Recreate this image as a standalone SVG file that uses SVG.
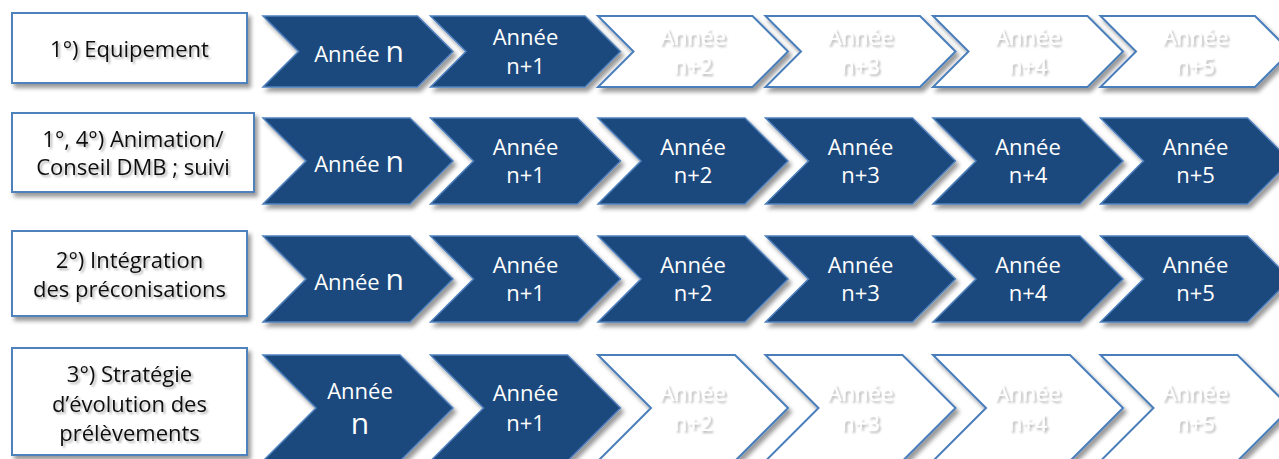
<svg xmlns="http://www.w3.org/2000/svg" width="1279" height="459" viewBox="0 0 1279 459">
<defs>
<filter id="sh" x="-10%" y="-10%" width="130%" height="140%">
<feGaussianBlur in="SourceAlpha" stdDeviation="2"/>
<feOffset dx="3" dy="4" result="b"/>
<feFlood flood-color="#000" flood-opacity="0.4"/>
<feComposite in2="b" operator="in" result="s"/>
<feMerge><feMergeNode in="s"/><feMergeNode in="SourceGraphic"/></feMerge>
</filter>
<filter id="tsh" x="-20%" y="-30%" width="150%" height="170%">
<feGaussianBlur in="SourceAlpha" stdDeviation="1.2"/>
<feOffset dx="1.5" dy="2" result="b"/>
<feFlood flood-color="#000" flood-opacity="0.3"/>
<feComposite in2="b" operator="in" result="s"/>
<feMerge><feMergeNode in="s"/><feMergeNode in="SourceGraphic"/></feMerge>
</filter>
</defs>
<style>
.box{fill:#fff;stroke:#4f81bd;stroke-width:2;filter:url(#sh)}
.dk{fill:#1f497d;stroke:#4f81bd;stroke-width:1.5;filter:url(#sh)}
.wt{fill:#fff;stroke:#4a7ebb;stroke-width:2;filter:url(#sh)}
.lt{font-family:"Open Sans","DejaVu Sans",sans-serif;font-size:22px;fill:#111;text-anchor:middle;filter:url(#tsh)}
.ct{font-family:"Open Sans","DejaVu Sans",sans-serif;font-size:22px;fill:#fff;text-anchor:middle}
.cw{font-family:"Open Sans","DejaVu Sans",sans-serif;font-size:22px;fill:#fff;text-anchor:middle;filter:url(#tsh)}
.big{font-size:30px}
</style>
<rect width="1279" height="459" fill="#fff"/>

<!-- Row 1 -->
<g id="label1"><rect class="box" x="12" y="13" width="235" height="70"/><text class="lt" x="129.5" y="57">1°) Equipement</text></g>
<g id="r1c1"><polygon class="dk" points="263,16 417.5,16 453,51.5 417.5,87 263,87 298.5,51.5"/><text class="ct" x="359" y="62">Année <tspan class="big">n</tspan></text></g>
<g id="r1c2"><polygon class="dk" points="430.5,16 585,16 620.5,51.5 585,87 430.5,87 466,51.5"/><text class="ct"><tspan x="525.5" y="45">Année</tspan><tspan x="525.5" y="73.5">n+1</tspan></text></g>
<g id="r1c3"><polygon class="wt" points="598,16 752.5,16 788,51.5 752.5,87 598,87 633.5,51.5"/><text class="cw"><tspan x="693" y="45">Année</tspan><tspan x="693" y="73.5">n+2</tspan></text></g>
<g id="r1c4"><polygon class="wt" points="765.5,16 920,16 955.5,51.5 920,87 765.5,87 801,51.5"/><text class="cw"><tspan x="860.5" y="45">Année</tspan><tspan x="860.5" y="73.5">n+3</tspan></text></g>
<g id="r1c5"><polygon class="wt" points="933,16 1087.5,16 1123,51.5 1087.5,87 933,87 968.5,51.5"/><text class="cw"><tspan x="1028" y="45">Année</tspan><tspan x="1028" y="73.5">n+4</tspan></text></g>
<g id="r1c6"><polygon class="wt" points="1100.5,16 1255,16 1290.5,51.5 1255,87 1100.5,87 1136,51.5"/><text class="cw"><tspan x="1195.5" y="45">Année</tspan><tspan x="1195.5" y="73.5">n+5</tspan></text></g>

<!-- Row 2 -->
<g id="label2"><rect class="box" x="12" y="113" width="242" height="79"/><text class="lt"><tspan x="133" y="147">1°, 4°) Animation/</tspan><tspan x="133" y="175">Conseil DMB ; suivi</tspan></text></g>
<g id="r2c1"><polygon class="dk" points="263,118 410,118 453,161 410,204 263,204 306,161"/><text class="ct" x="359" y="171.5">Année <tspan class="big">n</tspan></text></g>
<g id="r2c2"><polygon class="dk" points="430.5,118 577.5,118 620.5,161 577.5,204 430.5,204 473.5,161"/><text class="ct"><tspan x="525.5" y="155">Année</tspan><tspan x="525.5" y="183">n+1</tspan></text></g>
<g id="r2c3"><polygon class="dk" points="598,118 745,118 788,161 745,204 598,204 641,161"/><text class="ct"><tspan x="693" y="155">Année</tspan><tspan x="693" y="183">n+2</tspan></text></g>
<g id="r2c4"><polygon class="dk" points="765.5,118 912.5,118 955.5,161 912.5,204 765.5,204 808.5,161"/><text class="ct"><tspan x="860.5" y="155">Année</tspan><tspan x="860.5" y="183">n+3</tspan></text></g>
<g id="r2c5"><polygon class="dk" points="933,118 1080,118 1123,161 1080,204 933,204 976,161"/><text class="ct"><tspan x="1028" y="155">Année</tspan><tspan x="1028" y="183">n+4</tspan></text></g>
<g id="r2c6"><polygon class="dk" points="1100.5,118 1247.5,118 1290.5,161 1247.5,204 1100.5,204 1143.5,161"/><text class="ct"><tspan x="1195.5" y="155">Année</tspan><tspan x="1195.5" y="183">n+5</tspan></text></g>

<!-- Row 3 -->
<g id="label3"><rect class="box" x="12" y="231" width="235" height="85"/><text class="lt"><tspan x="129.5" y="268">2°) Intégration</tspan><tspan x="129.5" y="297">des préconisations</tspan></text></g>
<g id="r3c1"><polygon class="dk" points="263,236 410,236 453,279 410,322 263,322 306,279"/><text class="ct" x="359" y="289.5">Année <tspan class="big">n</tspan></text></g>
<g id="r3c2"><polygon class="dk" points="430.5,236 577.5,236 620.5,279 577.5,322 430.5,322 473.5,279"/><text class="ct"><tspan x="525.5" y="273">Année</tspan><tspan x="525.5" y="301">n+1</tspan></text></g>
<g id="r3c3"><polygon class="dk" points="598,236 745,236 788,279 745,322 598,322 641,279"/><text class="ct"><tspan x="693" y="273">Année</tspan><tspan x="693" y="301">n+2</tspan></text></g>
<g id="r3c4"><polygon class="dk" points="765.5,236 912.5,236 955.5,279 912.5,322 765.5,322 808.5,279"/><text class="ct"><tspan x="860.5" y="273">Année</tspan><tspan x="860.5" y="301">n+3</tspan></text></g>
<g id="r3c5"><polygon class="dk" points="933,236 1080,236 1123,279 1080,322 933,322 976,279"/><text class="ct"><tspan x="1028" y="273">Année</tspan><tspan x="1028" y="301">n+4</tspan></text></g>
<g id="r3c6"><polygon class="dk" points="1100.5,236 1247.5,236 1290.5,279 1247.5,322 1100.5,322 1143.5,279"/><text class="ct"><tspan x="1195.5" y="273">Année</tspan><tspan x="1195.5" y="301">n+5</tspan></text></g>

<!-- Row 4 -->
<g id="label4"><rect class="box" x="12" y="348" width="235" height="107"/><text class="lt"><tspan x="129.5" y="382">3°) Stratégie</tspan><tspan x="129.5" y="412">d’évolution des</tspan><tspan x="129.5" y="441">prélèvements</tspan></text></g>
<g id="r4c1"><polygon class="dk" points="263,355 400,355 453,408 400,461 263,461 316,408"/><text class="ct"><tspan x="360" y="399">Année</tspan><tspan class="big" x="360" y="434">n</tspan></text></g>
<g id="r4c2"><polygon class="dk" points="430.5,355 567.5,355 620.5,408 567.5,461 430.5,461 483.5,408"/><text class="ct"><tspan x="525.5" y="401">Année</tspan><tspan x="525.5" y="431">n+1</tspan></text></g>
<g id="r4c3"><polygon class="wt" points="598,355 735,355 788,408 735,461 598,461 651,408"/><text class="cw"><tspan x="693" y="401">Année</tspan><tspan x="693" y="431">n+2</tspan></text></g>
<g id="r4c4"><polygon class="wt" points="765.5,355 902.5,355 955.5,408 902.5,461 765.5,461 818.5,408"/><text class="cw"><tspan x="860.5" y="401">Année</tspan><tspan x="860.5" y="431">n+3</tspan></text></g>
<g id="r4c5"><polygon class="wt" points="933,355 1070,355 1123,408 1070,461 933,461 986,408"/><text class="cw"><tspan x="1028" y="401">Année</tspan><tspan x="1028" y="431">n+4</tspan></text></g>
<g id="r4c6"><polygon class="wt" points="1100.5,355 1237.5,355 1290.5,408 1237.5,461 1100.5,461 1153.5,408"/><text class="cw"><tspan x="1195.5" y="401">Année</tspan><tspan x="1195.5" y="431">n+5</tspan></text></g>

<g id="connectors"/>
</svg>
